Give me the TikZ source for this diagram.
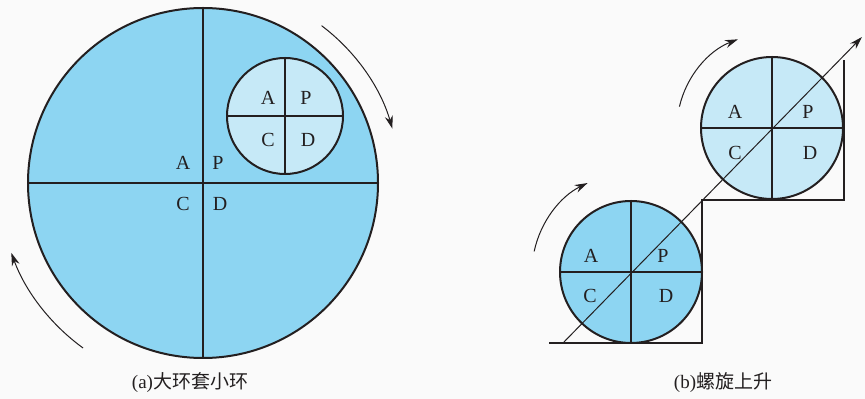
\documentclass[tikz,border=0pt]{standalone}
\usepackage{fontspec}
\setmainfont{Liberation Serif}
\newfontfamily\cjk{Noto Sans CJK SC}
\usetikzlibrary{arrows.meta,positioning,calc}
\definecolor{deep}{HTML}{8DD5F2}
\definecolor{pale}{HTML}{C6E9F7}
\definecolor{bg}{HTML}{FAFAFA}
\definecolor{ink}{HTML}{231F20}
\tikzset{
  ring/.style={circle,draw=ink,line width=2pt,inner sep=0pt},
  bigring/.style={ring,fill=deep,minimum size=350pt},
  smallring/.style={ring,fill=pale,minimum size=116pt},
  wheel/.style={ring,minimum size=142pt},
  cross/.style={draw=ink,line width=2pt},
  lbl/.style={font=\fontsize{20}{20}\selectfont,text=ink,inner sep=0pt},
  caption/.style={font=\fontsize{19}{19}\selectfont,text=ink},
  turn/.style={-{Stealth[length=13pt,width=8pt]},draw=ink,line width=1pt},
}
\begin{document}
\begin{tikzpicture}[x=1pt,y=1pt]
\fill[bg] (0,0) rectangle (865,399);
\useasboundingbox (0,0) rectangle (865,399);

% (a) big ring with a small ring inside
\node[bigring] (big) at (203,216) {};
\draw[cross] (big.north) -- (big.south);
\draw[cross] (big.west) -- (big.east);
\node[smallring] (small) at (285,283) {};
\draw[cross] (small.north) -- (small.south);
\draw[cross] (small.west) -- (small.east);
\node[lbl] (bigA) at ([shift={(-20,20)}]big.center) {A};
\node[lbl] (bigP) at ([shift={(15,20)}]big.center) {P};
\node[lbl] (bigC) at ([shift={(-20,-21)}]big.center) {C};
\node[lbl] (bigD) at ([shift={(17,-21)}]big.center) {D};
\node[lbl] (smallA) at ([shift={(-17,18)}]small.center) {A};
\node[lbl] (smallP) at ([shift={(21,18)}]small.center) {P};
\node[lbl] (smallC) at ([shift={(-17,-24)}]small.center) {C};
\node[lbl] (smallD) at ([shift={(23,-24)}]small.center) {D};
\draw[turn] ([shift={(53:197)}]big.center) arc[start angle=53,end angle=16,radius=197];
\draw[turn] ([shift={(234:204)}]big.center) arc[start angle=234,end angle=200,radius=204];
\node[caption] (capa) at (190,16) {(a)\cjk 大环套小环};

% (b) rising wheels on a staircase
\coordinate (st0) at (549,56);
\coordinate (st1) at (702,56);
\coordinate (st2) at (702,199);
\coordinate (st3) at (844,199);
\coordinate (st4) at (844,339);
\draw[cross] (st0) -- (st1) -- (st2) -- (st3) -- (st4);
\node[wheel,fill=deep] (low) at (631,127) {};
\node[wheel,fill=pale] (high) at (772,271) {};
\foreach \w in {low,high}{
  \draw[cross] (\w.north) -- (\w.south);
  \draw[cross] (\w.west) -- (\w.east);
}
\node[lbl] (lowA) at ([shift={(-40,16)}]low.center) {A};
\node[lbl] (lowP) at ([shift={(32,16)}]low.center) {P};
\node[lbl] (lowC) at ([shift={(-41,-24)}]low.center) {C};
\node[lbl] (lowD) at ([shift={(35,-24)}]low.center) {D};
\node[lbl] (highA) at ([shift={(-37,16)}]high.center) {A};
\node[lbl] (highP) at ([shift={(36,16)}]high.center) {P};
\node[lbl] (highC) at ([shift={(-37,-25)}]high.center) {C};
\node[lbl] (highD) at ([shift={(38,-25)}]high.center) {D};
\coordinate (rise0) at (563,56);
\coordinate (rise1) at (862,362);
\draw[turn] (rise0) -- (rise1);
\draw[turn] ([shift={(168:99)}]low.center) arc[start angle=168,end angle=116,radius=99];
\draw[turn] ([shift={(167:95)}]high.center) arc[start angle=167,end angle=111,radius=95];
\node[caption] (capb) at (723,16) {(b)\cjk 螺旋上升};
\end{tikzpicture}
\end{document}
